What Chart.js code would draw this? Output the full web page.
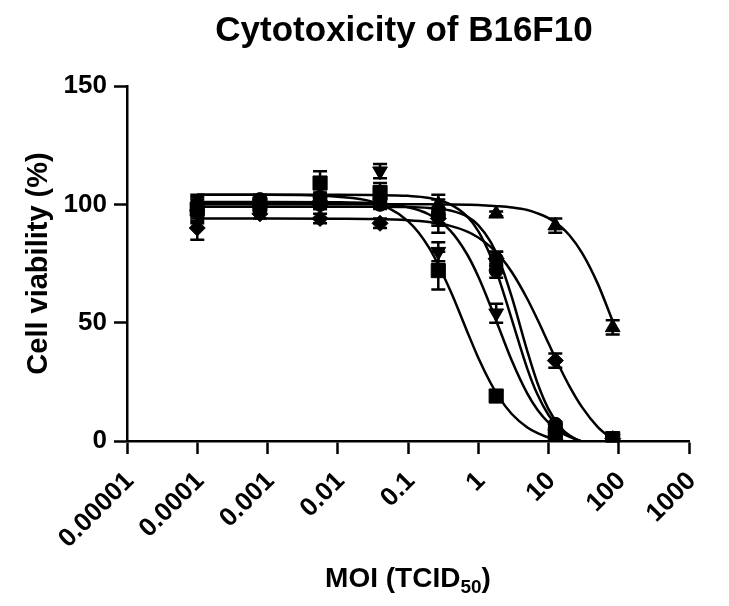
<!DOCTYPE html>
<html lang="en">
<head>
<meta charset="utf-8">
<script src="https://cdn.jsdelivr.net/npm/chart.js@4.4.1/dist/chart.umd.min.js"></script>
<title>Cytotoxicity of B16F10</title>
<style>
  html, body { margin: 0; padding: 0; background: #fff; }
  #wrap { width: 729px; height: 606px; position: relative; }
</style>
</head>
<body>
<div id="wrap"><canvas id="myChart"></canvas></div>
<script>
// texts
const chartTitle = 'Cytotoxicity of B16F10';
const yTitle = 'Cell viability (%)';
const xTitleMain = 'MOI (TCID';
const xTitleSub = '50';
const xTitleEnd = ')';

// axis ticks
const xTickVals = [0.00001, 0.0001, 0.001, 0.01, 0.1, 1, 10, 100, 1000];
const xTickLabels = ['0.00001', '0.0001', '0.001', '0.01', '0.1', '1', '10', '100', '1000'];
const yTickVals = [0, 50, 100, 150];

// measured points (mean, SD)
const moi = [0.0001, 0.00078, 0.0056, 0.04, 0.27, 1.8, 12.5, 82];
const viabCircle   = [100, 102, 103, 102, 96, 72, 7, 1];
const sdCircle     = [4, 2, 2, 3, 8, 3, 1, 1];
const viabSquare   = [98, 100, 109, 105, 72, 19, 3, 1];
const sdSquare     = [5, 3, 5, 4, 8, 2, 1, 1];
const viabTriangle = [99, 101, 101, 102, 100, 96, 91, 48];
const sdTriangle   = [3, 2, 2, 3, 2, 1, 3, 3];
const viabInvTri   = [96, 99, 100, 114, 80, 54, 3, 1];
const sdInvTri     = [4, 3, 2, 3, 4, 4, 1, 1];
const viabDiamond  = [90, 96, 94, 92, 94, 77, 34, 1];
const sdDiamond    = [5, 2, 2, 2, 3, 3, 3, 1];
const viabHex      = [97, 99, 100, 100, 95, 77, 7, 1];
const sdHex        = [3, 2, 2, 2, 3, 3, 1, 1];

// fitted curves
const fitMoi = [0.0001, 0.001, 0.01, 0.03, 0.1, 0.2, 0.4, 0.7, 1, 1.5, 2, 3, 5, 7, 10, 15, 20, 30, 50, 82];
const fitSquare   = [104, 104, 103.2, 101.2, 92.9, 81.6, 63.6, 46.1, 35.2, 24.5, 18.2, 11.4, 5.7, 3.3, 1.5, 0.2, -0.4, -1.0, -1.5, -1.7];
const fitInvTri   = [101, 101, 100.9, 100.5, 98.8, 95.7, 88.9, 78.7, 69.5, 56.9, 47.3, 34.0, 20.0, 13.1, 7.8, 3.6, 1.7, -0.2, -1.5, -2.2];
const fitCircle   = [104, 104, 104, 103.9, 103.6, 102.7, 100.0, 94.8, 88.7, 78.1, 68.0, 51.4, 30.5, 19.5, 11.0, 4.8, 2.1, -0.3, -1.8, -2.5];
const fitHex      = [99, 99, 99, 99, 98.9, 98.5, 97.4, 94.8, 91.2, 84.1, 76.3, 60.9, 37.9, 24.3, 13.5, 5.6, 2.3, -0.4, -1.9, -2.6];
const fitDiamond  = [94, 94, 93.9, 93.8, 93.3, 92.5, 90.9, 88.5, 86.0, 82.0, 78.3, 71.4, 60.0, 51.2, 41.3, 30.2, 23.0, 14.3, 6.0, 0.6];
const fitTriangle = [100, 100, 100, 100, 100, 100, 99.9, 99.8, 99.7, 99.4, 99.2, 98.7, 97.6, 96.2, 94.2, 90.5, 86.8, 79.5, 66.6, 50.6];

const FONT = "Arial, 'Liberation Sans', sans-serif";
Chart.defaults.font.family = FONT;
Chart.defaults.color = '#000';

function pts(xs, ys) {
    return xs.map((x, i) => ({x: x, y: ys[i]}));
}

function markers(ys, sd, style, radius, rotation) {
    return {
        data: pts(moi, ys),
        errors: sd,
        showLine: false,
        pointStyle: style,
        pointRadius: radius,
        pointRotation: rotation || 0,
        pointBackgroundColor: '#000',
        pointBorderColor: '#000',
        pointBorderWidth: 1
    };
}

function curve(ys) {
    return {
        data: pts(fitMoi, ys),
        showLine: true,
        borderColor: '#000',
        borderWidth: 2.5,
        pointRadius: 0,
        cubicInterpolationMode: 'monotone'
    };
}

// error bars under the markers
const errorBars = {
    id: 'errorBars',
    beforeDatasetsDraw(chart) {
        const ctx = chart.ctx, xs = chart.scales.x, ys = chart.scales.y;
        ctx.save();
        ctx.strokeStyle = '#000';
        ctx.lineWidth = 2.5;
        chart.data.datasets.forEach(ds => {
            if (!ds.errors) return;
            ds.data.forEach((p, i) => {
                const e = ds.errors[i];
                const px = xs.getPixelForValue(p.x);
                const top = ys.getPixelForValue(p.y + e);
                const bot = ys.getPixelForValue(p.y - e);
                ctx.beginPath();
                ctx.moveTo(px, top); ctx.lineTo(px, bot);
                ctx.moveTo(px - 7, top); ctx.lineTo(px + 7, top);
                ctx.moveTo(px - 7, bot); ctx.lineTo(px + 7, bot);
                ctx.stroke();
            });
        });
        ctx.restore();
    }
};

// chart title + x title with subscript
const texts = {
    id: 'texts',
    afterDraw(chart) {
        const ctx = chart.ctx, a = chart.chartArea;
        const cx = (a.left + a.right) / 2;
        ctx.save();
        ctx.fillStyle = '#000';
        ctx.textBaseline = 'alphabetic';
        ctx.textAlign = 'center';
        ctx.font = 'bold 35px ' + FONT;
        ctx.fillText(chartTitle, cx - 4, 41);

        const big = 'bold 28px ' + FONT, small = 'bold 19px ' + FONT;
        ctx.font = big;
        const w1 = ctx.measureText(xTitleMain).width;
        const w3 = ctx.measureText(xTitleEnd).width;
        ctx.font = small;
        const w2 = ctx.measureText(xTitleSub).width;
        let x = cx - (w1 + w2 + w3) / 2;
        const y = 587;
        ctx.textAlign = 'left';
        ctx.font = big; ctx.fillText(xTitleMain, x, y); x += w1;
        ctx.font = small; ctx.fillText(xTitleSub, x, y + 6); x += w2;
        ctx.font = big; ctx.fillText(xTitleEnd, x, y);
        ctx.restore();
    }
};

const axisGrid = {
    display: true,
    drawOnChartArea: false,
    drawTicks: true,
    tickLength: 13,
    tickWidth: 2.5,
    tickColor: '#000',
    color: '#000'
};

let ctx = document.getElementById('myChart').getContext('2d');
let doseChart = new Chart(ctx, {
    type: 'scatter',
    data: {
        datasets: [
            curve(fitSquare), curve(fitInvTri), curve(fitCircle),
            curve(fitHex), curve(fitDiamond), curve(fitTriangle),
            markers(viabCircle, sdCircle, 'circle', 7),
            markers(viabHex, sdHex, 'circle', 7),
            markers(viabSquare, sdSquare, 'rect', 10),
            markers(viabTriangle, sdTriangle, 'triangle', 8.5),
            markers(viabInvTri, sdInvTri, 'triangle', 8.5, 180),
            markers(viabDiamond, sdDiamond, 'rectRot', 8)
        ]
    },
    plugins: [errorBars, texts],
    options: {
        responsive: true,
        maintainAspectRatio: false,
        animation: false,
        layout: { padding: { top: 86, right: 40, bottom: 0, left: 0 } },
        plugins: {
            legend: { display: false },
            tooltip: { enabled: false },
            title: { display: false }
        },
        scales: {
            x: {
                type: 'logarithmic',
                min: 0.00001,
                max: 1000,
                grid: axisGrid,
                border: { display: true, color: '#000', width: 2.5 },
                afterBuildTicks: s => { s.ticks = xTickVals.map(v => ({value: v})); },
                afterFit: s => { s.height = 165; },
                ticks: {
                    autoSkip: false,
                    minRotation: 45,
                    maxRotation: 45,
                    padding: 12,
                    labelOffset: 3,
                    font: { size: 26, weight: 'bold' },
                    callback: (v, i) => xTickLabels[i]
                }
            },
            y: {
                min: 0,
                max: 150,
                grid: axisGrid,
                border: { display: true, color: '#000', width: 2.5 },
                afterBuildTicks: s => { s.ticks = yTickVals.map(v => ({value: v})); },
                afterFit: s => { s.width = 127; },
                ticks: {
                    padding: 7,
                    font: { size: 26, weight: 'bold' },
                    callback: v => String(v)
                },
                title: {
                    display: true,
                    text: yTitle,
                    font: { size: 29, weight: 'bold' },
                    padding: { top: 22, bottom: 0 }
                }
            }
        }
    }
});
</script>
</body>
</html>
